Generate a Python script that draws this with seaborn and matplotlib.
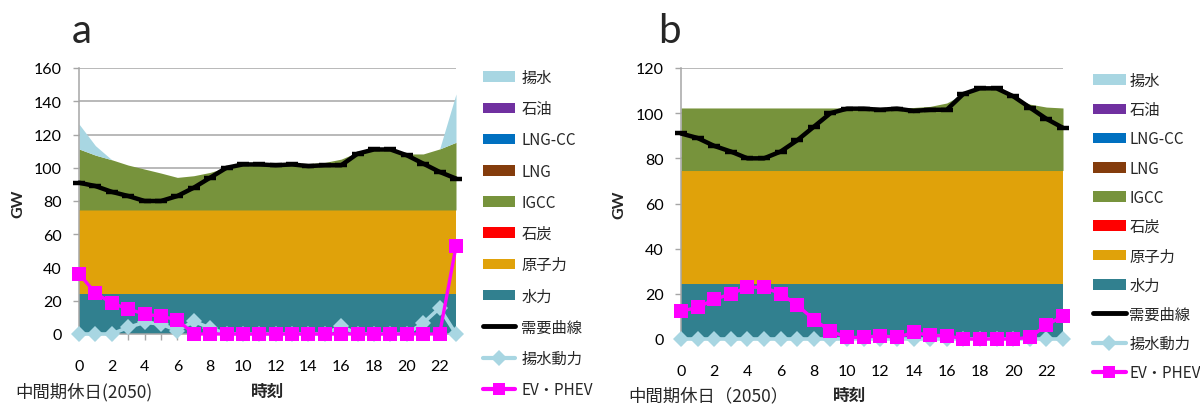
import matplotlib
matplotlib.use("Agg")
import matplotlib.pyplot as plt
from matplotlib.patches import Patch
from matplotlib.lines import Line2D
import seaborn as sns

# ---- data -----------------------------------------------------------------
hours = [0, 1, 2, 3, 4, 5, 6, 7, 8, 9, 10, 11, 12, 13, 14, 15, 16, 17, 18, 19, 20, 21, 22, 23]
xtick_hours = [0, 2, 4, 6, 8, 10, 12, 14, 16, 18, 20, 22]

# demand curve (GW), identical day in both panels
demand = [91, 89, 85.5, 83, 80, 80, 83, 88, 94, 100, 102, 102,
          101.5, 102, 101, 101.5, 101.5, 108.5, 111, 111, 107.5, 102.5, 97.5, 93.5]

# panel a: stacked supply (GW)
hydro_a = [24.3, 24.3, 24.3, 24.3, 24.3, 24.3, 24.3, 24.3, 24.3, 24.3, 24.3, 24.3,
           24.3, 24.3, 24.3, 24.3, 24.3, 24.3, 24.3, 24.3, 24.3, 24.3, 24.3, 24.3]
nuclear_a = [50.3, 50.3, 50.3, 50.3, 50.3, 50.3, 50.3, 50.3, 50.3, 50.3, 50.3, 50.3,
             50.3, 50.3, 50.3, 50.3, 50.3, 50.3, 50.3, 50.3, 50.3, 50.3, 50.3, 50.3]
coal_a = [0, 0, 0, 0, 0, 0, 0, 0, 0, 0, 0, 0, 0, 0, 0, 0, 0, 0, 0, 0, 0, 0, 0, 0]
igcc_a = [36.7, 33.0, 30.2, 27.0, 24.6, 22.2, 19.6, 20.6, 22.6, 25.6, 27.7, 27.9,
          27.9, 27.9, 27.9, 28.6, 30.6, 34.7, 37.1, 37.1, 33.7, 33.7, 36.7, 40.7]
lng_a = [0, 0, 0, 0, 0, 0, 0, 0, 0, 0, 0, 0, 0, 0, 0, 0, 0, 0, 0, 0, 0, 0, 0, 0]
lngcc_a = [0, 0, 0, 0, 0, 0, 0, 0, 0, 0, 0, 0, 0, 0, 0, 0, 0, 0, 0, 0, 0, 0, 0, 0]
oil_a = [0, 0, 0, 0, 0, 0, 0, 0, 0, 0, 0, 0, 0, 0, 0, 0, 0, 0, 0, 0, 0, 0, 0, 0]
pumpgen_a = [15.0, 5.7, 0, 0, 0, 0, 0, 0, 0, 0, 0, 0,
             0, 0, 0, 0, 0, 0, 0, 0, 0, 0, 0, 29.1]
pumppower_a = [0, 0, 0, 4, 7, 6, 2, 7.6, 3.6, 0, 0, 0,
               0, 0, 0, 0, 4.6, 0, 0, 0, 0, 6.6, 15.6, 0]
ev_a = [36.3, 24.6, 18.6, 15, 12, 10.6, 8.6, 0, 0, 0, 0, 0,
        0, 0, 0, 0, 0, 0, 0, 0, 0, 0, 0, 52.7]

# panel b: stacked supply (GW)
hydro_b = [24.3, 24.3, 24.3, 24.3, 24.3, 24.3, 24.3, 24.3, 24.3, 24.3, 24.3, 24.3,
           24.3, 24.3, 24.3, 24.3, 24.3, 24.3, 24.3, 24.3, 24.3, 24.3, 24.3, 24.3]
nuclear_b = [50.3, 50.3, 50.3, 50.3, 50.3, 50.3, 50.3, 50.3, 50.3, 50.3, 50.3, 50.3,
             50.3, 50.3, 50.3, 50.3, 50.3, 50.3, 50.3, 50.3, 50.3, 50.3, 50.3, 50.3]
coal_b = [0, 0, 0, 0, 0, 0, 0, 0, 0, 0, 0, 0, 0, 0, 0, 0, 0, 0, 0, 0, 0, 0, 0, 0]
igcc_b = [27.7, 27.7, 27.7, 27.7, 27.7, 27.7, 27.7, 27.7, 27.7, 27.7, 27.7, 27.7,
          27.7, 27.7, 27.9, 28.4, 29.9, 33.9, 35.9, 35.9, 32.4, 29.4, 28.1, 27.7]
lng_b = [0, 0, 0, 0, 0, 0, 0, 0, 0, 0, 0, 0, 0, 0, 0, 0, 0, 0, 0, 0, 0, 0, 0, 0]
lngcc_b = [0, 0, 0, 0, 0, 0, 0, 0, 0, 0, 0, 0, 0, 0, 0, 0, 0, 0, 0, 0, 0, 0, 0, 0]
oil_b = [0, 0, 0, 0, 0, 0, 0, 0, 0, 0, 0, 0, 0, 0, 0, 0, 0, 0, 0, 0, 0, 0, 0, 0]
pumpgen_b = [0, 0, 0, 0, 0, 0, 0, 0, 0, 0, 0, 0,
             0, 0, 0, 0, 0, 0.4, 0.5, 0.3, 0, 0, 0, 0]
pumppower_b = [0, 0, 0, 0, 0, 0, 0, 0, 0, 0, 0, 0, 0, 0, 0, 0, 0, 0, 0, 0, 0, 0, 0, 0]
ev_b = [12.3, 14, 17.5, 20, 22.9, 22.9, 20, 15, 8.6, 3.5, 0.7, 0.7,
        1.5, 0.7, 2.9, 1.6, 1.5, 0, 0, 0, 0, 0.7, 6.1, 10.2]

# legend labels (top to bottom) and colours
area_labels = ["揚水", "石油", "LNG-CC", "LNG", "IGCC", "石炭", "原子力", "水力"]
area_colors = ["#A8D6E2", "#7030A0", "#0070C0", "#843C0C", "#77933C", "#FF0000", "#E0A20A", "#31808F"]
line_labels = ["需要曲線", "揚水動力", "EV・PHEV"]
demand_color = "#000000"
pump_color = "#A8D6E2"
ev_color = "#FF00FF"
grid_color = "#A6A6A6"

# ---- style ----------------------------------------------------------------
sns.set_theme(style="white")
plt.rcParams["font.family"] = ["Lato", "Noto Sans CJK JP", "DejaVu Sans"]
plt.rcParams["axes.unicode_minus"] = False
JP = ["Noto Sans CJK JP", "DejaVu Sans"]

fig = plt.figure(figsize=(12, 4.06), dpi=100)
W, H = 1200.0, 406.0


def axes_box(left, top, right, bottom):
    return [left / W, 1 - bottom / H, (right - left) / W, (bottom - top) / H]


def draw_panel(ax, stack, pump_power, ev, ymax, ystep):
    # stack order bottom -> top: hydro, nuclear, coal, IGCC, LNG, LNG-CC, oil, pumped generation
    colors_bottom_up = list(reversed(area_colors))
    ax.stackplot(hours, *stack, colors=colors_bottom_up, linewidth=0, zorder=1)

    sns.lineplot(x=hours, y=pump_power, ax=ax, color=pump_color, linewidth=2.6,
                 marker="D", markersize=8, markeredgewidth=0, markeredgecolor=pump_color,
                 clip_on=False, zorder=4, legend=False, errorbar=None)
    sns.lineplot(x=hours, y=demand, ax=ax, color=demand_color, linewidth=3.2,
                 marker="_", markersize=9, markeredgewidth=3.2, markeredgecolor=demand_color,
                 clip_on=False, zorder=5, legend=False, errorbar=None)
    sns.lineplot(x=hours, y=ev, ax=ax, color=ev_color, linewidth=2.4,
                 marker="s", markersize=9.5, markeredgewidth=0, markeredgecolor=ev_color,
                 clip_on=False, zorder=6, legend=False, errorbar=None)

    ax.set_xlim(0, 23)
    ax.set_ylim(0, ymax)
    ax.set_yticks(list(range(0, ymax + 1, ystep)))
    ax.set_xticks(xtick_hours)
    ax.set_xticks(hours, minor=True)
    ax.set_xticklabels([str(h) for h in xtick_hours])
    ax.set_axisbelow(True)
    ax.yaxis.grid(True, color=grid_color, linewidth=1.1)
    ax.xaxis.grid(False)
    for side in ("top", "right"):
        ax.spines[side].set_visible(False)
    for side in ("left", "bottom"):
        ax.spines[side].set_color(grid_color)
        ax.spines[side].set_linewidth(1.1)
    ax.tick_params(axis="y", which="major", direction="out", length=4.5, width=1,
                   color=grid_color, left=True, pad=8, labelsize=11.5, labelcolor="black")
    ax.tick_params(axis="x", which="both", direction="out", length=4, width=1,
                   color=grid_color, bottom=True, pad=14, labelsize=11.5, labelcolor="black")
    ax.set_xlabel("")
    ax.set_ylabel("")


def legend_handles():
    handles = [Patch(facecolor=c, edgecolor="none", label=l) for l, c in zip(area_labels, area_colors)]
    handles.append(Line2D([0], [0], color=demand_color, lw=3.5, solid_capstyle="round", label=line_labels[0]))
    handles.append(Line2D([0], [0], color=pump_color, lw=3, marker="D", markersize=8,
                          markeredgewidth=0, label=line_labels[1]))
    handles.append(Line2D([0], [0], color=ev_color, lw=3, marker="s", markersize=9,
                          markeredgewidth=0, label=line_labels[2]))
    return handles


# ---- panel a ----------------------------------------------------------------
ax_a = fig.add_axes(axes_box(79, 69, 456, 335))
draw_panel(ax_a,
           [hydro_a, nuclear_a, coal_a, igcc_a, lng_a, lngcc_a, oil_a, pumpgen_a],
           pumppower_a, ev_a, 160, 20)

# ---- panel b ----------------------------------------------------------------
ax_b = fig.add_axes(axes_box(681, 69, 1063, 340))
draw_panel(ax_b,
           [hydro_b, nuclear_b, coal_b, igcc_b, lng_b, lngcc_b, oil_b, pumpgen_b],
           pumppower_b, ev_b, 120, 20)

# ---- legends ----------------------------------------------------------------
leg_font = {"family": JP, "size": 11}
fig.legend(handles=legend_handles(), loc="upper left", bbox_to_anchor=(483 / W, 1 - 70 / H),
           frameon=False, prop=leg_font, handlelength=2.1, handleheight=0.7,
           handletextpad=0.4, labelspacing=0.93, borderpad=0, borderaxespad=0, numpoints=1)
fig.legend(handles=legend_handles(), loc="upper left", bbox_to_anchor=(1093 / W, 1 - 73 / H),
           frameon=False, prop=leg_font, handlelength=2.15, handleheight=0.7,
           handletextpad=0.22, labelspacing=0.8, borderpad=0, borderaxespad=0, numpoints=1)

# ---- panel letters and axis texts ------------------------------------------
fig.text(72 / W, 1 - 43 / H, "a", fontsize=29, ha="left", va="baseline")
fig.text(658 / W, 1 - 43 / H, "b", fontsize=29, ha="left", va="baseline")

fig.text(18 / W, 1 - 204 / H, "GW", fontsize=11.5, fontweight="bold", rotation=90, ha="center", va="center")
fig.text(619 / W, 1 - 205 / H, "GW", fontsize=11.5, fontweight="bold", rotation=90, ha="center", va="center")

fig.text(268 / W, 1 - 392 / H, "時刻", fontsize=12, fontweight="bold", family=JP, ha="center", va="center")
fig.text(850 / W, 1 - 396 / H, "時刻", fontsize=12, fontweight="bold", family=JP, ha="center", va="center")

fig.text(15 / W, 1 - 392 / H, "中間期休日(2050)", fontsize=12.5, family=JP, ha="left", va="center")
fig.text(628 / W, 1 - 396 / H, "中間期休日（2050）", fontsize=12.5, family=JP, ha="left", va="center")

fig.savefig("out.png", dpi=100)
